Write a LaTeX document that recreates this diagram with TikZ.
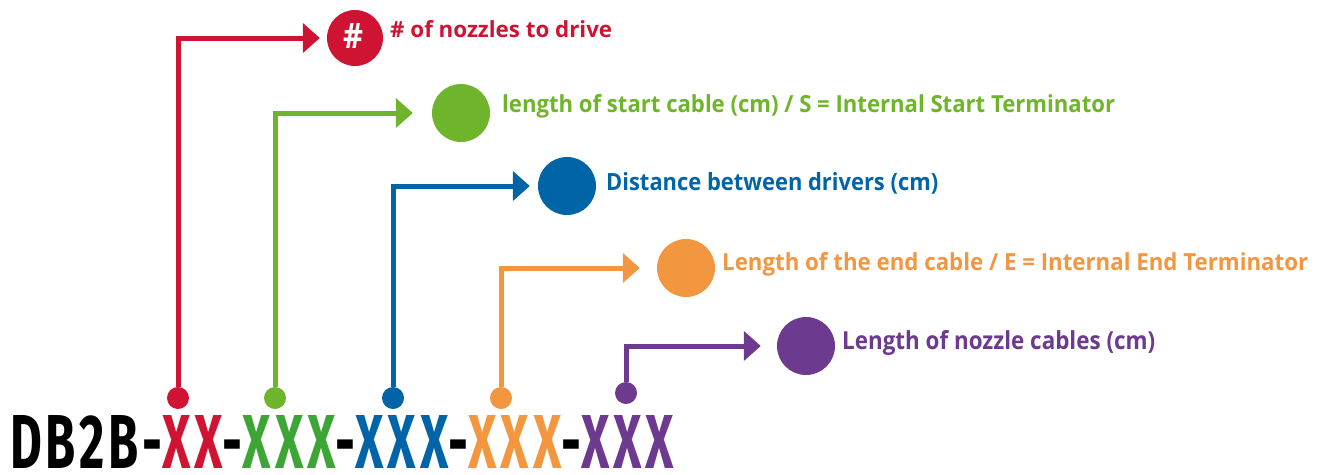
\documentclass[tikz,border=0pt]{standalone}
\usepackage{graphicx}
\usepackage{fontspec}
\setmainfont{Open Sans}
\newfontfamily\codefont{Fira Sans}[LetterSpace=8]
\usetikzlibrary{arrows.meta}
\definecolor{cred}{HTML}{CE1432}
\definecolor{cgreen}{HTML}{6FB52C}
\definecolor{cgreendk}{HTML}{3DA535}
\definecolor{cblue}{HTML}{0064A7}
\definecolor{corange}{HTML}{F39640}
\definecolor{cpurple}{HTML}{6C3A8E}
\tikzset{
  dotnode/.style={circle,fill=#1,minimum size=22pt,inner sep=0pt},
  bignode/.style={circle,fill=#1,minimum size=58pt,inner sep=0pt},
  lead/.style={draw=#1,line width=5pt,-{Triangle[length=17pt,width=29pt]}},
  lbl/.style={text=#1,anchor=base west,inner sep=0pt,font=\bfseries},
}
\begin{document}
\begin{tikzpicture}[x=1pt,y={(0pt,-1pt)}]
\useasboundingbox (0,0) rectangle (1325,474);
% bottom code
\node[anchor=base west,inner sep=0pt] (code) at (10,468)
  {\resizebox{664pt}{53pt}{\codefont\bfseries DB2B-\textcolor{cred}{XX}-\textcolor{cgreendk}{XXX}-\textcolor{cblue}{XXX}-\textcolor{corange}{XXX}-\textcolor{cpurple}{XXX}}};
% dots
\node[dotnode=cred] (dR) at (178,398) {};
\node[dotnode=cgreen] (dG) at (275,398) {};
\node[dotnode=cblue] (dB) at (393,398) {};
\node[dotnode=corange] (dO) at (501,398) {};
\node[dotnode=cpurple] (dP) at (626,393) {};
% big circles
\node[bignode=cred, minimum size=56pt] (cR) at (355,38) {};
\node[text=white,inner sep=0pt] (hash) at (353,36) {\resizebox{20pt}{25pt}{\bfseries\#}};
\node[bignode=cgreen] (cG) at (461,113) {};
\node[bignode=cblue] (cB) at (567,186) {};
\node[bignode=corange] (cO) at (686,268) {};
\node[bignode=cpurple] (cP) at (806,346) {};
% connectors
\draw[lead=cred, shorten >=7pt] (dR) |- (cR);
\draw[lead=cgreen, shorten >=19pt] (dG) |- (cG);
\draw[lead=cblue, shorten >=8pt] (dB) |- (cB);
\draw[lead=corange, shorten >=17pt] (dO) |- (cO);
\draw[lead=cpurple, shorten >=16pt] (dP) |- (cP);
% labels
\node[lbl=cred] (tR) at (390,37) {\resizebox{222pt}{17pt}{\# of nozzles to drive}};
\node[lbl=cgreen] (tG) at (502,112) {\resizebox{613pt}{18pt}{length of start cable (cm) / S = Internal Start Terminator}};
\node[lbl=cblue] (tB) at (606,190) {\resizebox{332pt}{18pt}{Distance between drivers (cm)}};
\node[lbl=corange] (tO) at (722,270) {\resizebox{586pt}{18pt}{Length of the end cable / E = Internal End Terminator}};
\node[lbl=cpurple] (tP) at (842,349) {\resizebox{313pt}{19pt}{Length of nozzle cables (cm)}};
\end{tikzpicture}
\end{document}
